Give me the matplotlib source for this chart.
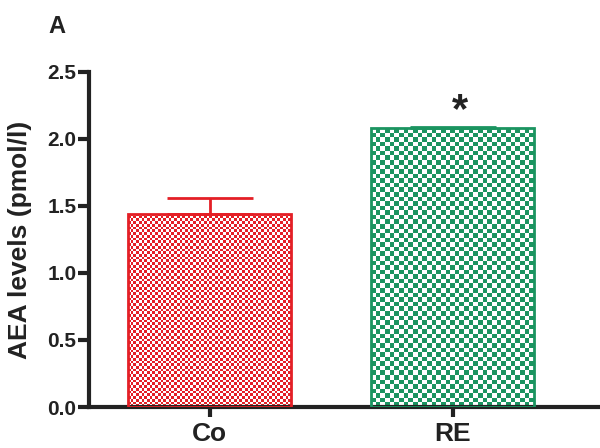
from matplotlib import pyplot as plt
import matplotlib.colors as mcolors
import numpy as np

groups = ["Co", "RE"]
means = [1.44, 2.08]
sem_up = [0.12, 0.01]
colors = ["#e41f26", "#1b9460"]
check_px = [2.7, 4.6]  # checker cell size in pixels

plt.rcParams["font.family"] = ["Liberation Sans", "DejaVu Sans"]
plt.rcParams["font.weight"] = "bold"

fig = plt.figure(figsize=(6, 4.48), dpi=100)
ax = fig.add_axes([0.148, 0.0915, 0.848, 0.748])

x = np.arange(len(groups))
width = 0.67
bars = ax.bar(x, means, width=width, facecolor="none", edgecolor=colors,
              linewidth=2.0, zorder=3)

ax.set_xlim(-0.498, 1.597)
ax.set_ylim(0, 2.5)

# checkerboard fill, clipped to each bar
px_per_x = 243.0
px_per_y = 134.0
for b, c, cell in zip(bars, colors, check_px):
    x0, w, h = b.get_x(), b.get_width(), b.get_height()
    nx = int(round(w * px_per_x / cell))
    ny = int(round(h * px_per_y / cell))
    ii, jj = np.indices((ny, nx))
    board = ((ii + jj) % 2)
    img = np.ones((ny, nx, 3))
    img[board == 1] = np.array(mcolors.to_rgb(c))
    im = ax.imshow(img, extent=[x0, x0 + w, 0, h], interpolation="nearest",
                   aspect="auto", zorder=2)
    im.set_clip_path(b)

# upper error bars only
for xi, m, e, c in zip(x, means, sem_up, colors):
    ax.errorbar(xi, m, yerr=[[0], [e]], fmt="none", ecolor=c,
                elinewidth=2, capsize=31, capthick=2, zorder=4)

ax.text(1.03, 2.21, "*", ha="center", va="center", fontsize=30,
        fontweight="bold", color="#222222")

for s in ["top", "right"]:
    ax.spines[s].set_visible(False)
for s in ["left", "bottom"]:
    ax.spines[s].set_linewidth(3)
    ax.spines[s].set_color("#222222")
ax.tick_params(axis="y", width=3, length=8, pad=1, color="#222222")
ax.tick_params(axis="x", width=3, length=7, pad=4, color="#222222")
ax.set_yticks([0, 0.5, 1.0, 1.5, 2.0, 2.5])
ax.set_yticklabels(["0.0", "0.5", "1.0", "1.5", "2.0", "2.5"], fontsize=15,
                   fontweight="bold", color="#222222")
ax.set_xticks(x)
ax.set_xticklabels(groups, fontsize=19, fontweight="bold", color="#222222")
ax.set_ylabel("AEA levels (pmol/l)", fontsize=19, fontweight="bold",
              color="#222222", labelpad=11)

fig.text(0.095, 0.94, "A", fontsize=17, fontweight="bold", ha="center",
         va="center", color="#222222")

fig.savefig("out.png", dpi=100)
